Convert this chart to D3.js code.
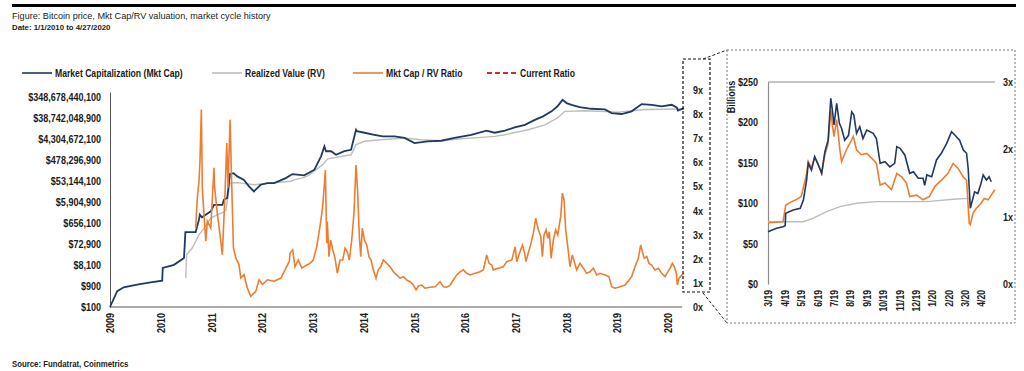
<!DOCTYPE html>
<html>
<head>
<meta charset="utf-8">
<script src="https://cdn.jsdelivr.net/npm/d3@7"></script>
<style>
  body { margin: 0; background: #fff; }
  text { font-family: "Liberation Sans Narrow", "Arial Narrow", "Liberation Sans", Arial, sans-serif; font-weight: bold; fill: #1a1a1a; }
</style>
</head>
<body>
<svg width="1024" height="371"></svg>
<script>
// main chart: market cap (log, $)
const mcDates = ['2009-01-01','2009-02-22','2009-04-10','2009-07-15','2009-10-20','2010-01-12','2010-01-16','2010-04-07','2010-06-18','2010-06-28','2010-09-10','2010-10-04','2010-10-10','2010-10-25','2010-12-28','2011-01-20','2011-03-21','2011-04-02','2011-04-25','2011-05-15','2011-06-10','2011-07-07','2011-08-24','2011-09-29','2011-11-04','2011-12-22','2012-02-08','2012-03-28','2012-06-20','2012-08-07','2012-10-31','2013-01-12','2013-03-01','2013-03-25','2013-04-06','2013-05-12','2013-06-17','2013-08-16','2013-10-03','2013-11-08','2013-11-15','2014-01-08','2014-03-20','2014-05-19','2014-08-12','2014-10-23','2015-01-03','2015-04-08','2015-07-14','2015-10-18','2016-02-16','2016-06-04','2016-08-03','2016-10-15','2016-12-25','2017-03-08','2017-05-19','2017-07-17','2017-09-16','2017-10-29','2017-12-04','2018-01-03','2018-02-07','2018-04-06','2018-06-30','2018-10-05','2018-11-23','2019-02-03','2019-04-16','2019-06-27','2019-09-07','2019-11-18','2020-01-30','2020-03-07','2020-03-14','2020-04-27'];
const mcValues = [100,520,790,1030,1330,1560,5960,8270,16800,255000,255000,933000,1580000,1200000,2240000,4400000,4400000,7500000,9000000,1.1e8,1.2e8,8.6e7,6.0e7,3.06e7,1.8e7,3.6e7,4.3e7,4.3e7,7.2e7,1.1e8,9.6e7,1.74e8,7.05e8,2.0e9,1.2e9,1.2e9,8.3e8,1.2e9,1.4e9,1.14e10,9.7e9,8.3e9,6.7e9,5.7e9,5.7e9,4.8e9,2.8e9,3.4e9,3.6e9,4.8e9,6.7e9,1.03e10,8.3e9,1.03e10,1.47e10,1.9e10,3.2e10,4.6e10,7.8e10,1.32e11,2.6e11,1.85e11,1.55e11,1.2e11,1.02e11,9.5e10,6.5e10,5.9e10,7.8e10,1.67e11,1.55e11,1.32e11,1.55e11,1.15e11,8.5e10,1.1e11];

// main chart: realized value (log, $)
const rvDates = ['2010-07-01','2010-07-07','2010-08-16','2010-10-04','2010-11-09','2010-12-28','2011-02-14','2011-03-21','2011-04-16','2011-05-15','2011-07-07','2011-11-04','2012-03-05','2012-07-27','2012-08-20','2012-10-31','2012-12-01','2013-03-13','2013-04-18','2013-10-03','2013-11-08','2014-01-08','2014-05-08','2014-10-23','2015-02-21','2015-07-14','2015-12-05','2016-04-28','2016-08-03','2016-10-14','2017-04-01','2017-07-30','2017-10-29','2017-12-20','2018-05-14','2019-01-10','2019-07-19','2020-04-27'];
const rvValues = [2080,23700,48000,192000,387000,1100000,1580000,1880000,2500000,4.3e7,4.5e7,3.6e7,4.3e7,5.2e7,6.0e7,7.8e7,9.6e7,2.95e8,5.4e8,8.3e8,2.4e9,3.4e9,4.0e9,4.8e9,4.0e9,3.6e9,4.4e9,5.1e9,5.7e9,6.7e9,1.14e10,1.9e10,3.9e10,7.8e10,8.3e10,7.2e10,9.5e10,1.0e11];

// main chart: Mkt Cap / RV ratio (x)
const ratioDates = ['2010-09-10','2010-09-22','2010-10-04','2010-10-11','2010-10-21','2010-10-28','2010-11-09','2010-11-22','2010-12-03','2010-12-28','2011-01-20','2011-01-24','2011-02-14','2011-03-10','2011-03-21','2011-04-08','2011-04-22','2011-05-01','2011-05-16','2011-05-25','2011-06-09','2011-06-26','2011-07-19','2011-08-01','2011-08-24','2011-09-17','2011-10-11','2011-11-17','2011-12-11','2012-01-04','2012-02-09','2012-03-28','2012-05-16','2012-06-22','2012-07-16',
  '2012-07-20','2012-08-09','2012-08-25','2012-09-18','2012-10-13','2012-11-18','2012-12-11','2013-01-04','2013-01-29','2013-02-21','2013-03-10','2013-03-24','2013-04-01','2013-04-11','2013-04-15','2013-04-27','2013-05-09','2013-05-24','2013-06-10','2013-06-26','2013-07-16','2013-08-04','2013-08-21','2013-09-06','2013-09-21','2013-10-08','2013-10-24','2013-11-08','2013-11-20','2013-12-02','2013-12-12','2013-12-23',
  '2014-01-07','2014-01-24','2014-02-09','2014-02-24','2014-03-12','2014-04-01','2014-04-17','2014-05-05','2014-05-23','2014-06-17','2014-07-11','2014-08-04','2014-08-28','2014-09-21','2014-10-15','2014-11-08','2014-12-02','2014-12-26',
  '2015-01-14','2015-01-31','2015-02-24','2015-03-20','2015-04-25','2015-05-31','2015-07-06','2015-07-30','2015-08-23','2015-09-16','2015-10-10','2015-11-03','2015-11-27','2015-12-21',
  '2016-01-14','2016-02-07','2016-03-14','2016-04-19','2016-05-13','2016-06-06','2016-06-23','2016-07-12','2016-07-24','2016-08-29','2016-10-04','2016-10-29','2016-12-04','2016-12-28',
  '2017-01-08','2017-02-01','2017-02-18','2017-03-04','2017-03-16','2017-04-01','2017-04-21','2017-05-08','2017-05-25','2017-06-13','2017-06-30','2017-07-12','2017-07-24','2017-08-08','2017-08-20','2017-08-31','2017-09-13','2017-09-29','2017-10-16','2017-10-31','2017-11-09','2017-11-21','2017-12-03','2017-12-15','2017-12-27',
  '2018-01-11','2018-01-27','2018-02-13','2018-02-27','2018-03-16','2018-04-09','2018-05-03','2018-05-27','2018-06-20','2018-07-14','2018-08-07','2018-08-31','2018-10-06','2018-11-03','2018-11-23','2018-12-17',
  '2019-01-23','2019-02-28','2019-03-28','2019-04-16','2019-05-10','2019-06-03','2019-06-20','2019-07-02','2019-07-16','2019-08-03','2019-08-19','2019-09-07','2019-10-01','2019-10-25','2019-11-18','2019-12-12',
  '2020-01-01','2020-01-18','2020-02-03','2020-02-17','2020-03-03','2020-03-10','2020-03-22','2020-04-11','2020-04-27'];
const ratioValues = [3.28,4.52,5.22,6.05,8.19,4.94,3.83,2.73,3.56,3.28,5.77,5.0,3.83,2.73,2.17,4.52,6.8,4.94,7.77,5.63,2.45,2.04,1.76,1.2,1.34,0.79,0.44,0.65,1.13,0.93,1.13,1.07,1.2,1.62,1.9,
  2.23,2.37,1.67,1.95,1.61,1.74,1.81,1.95,2.5,3.33,4.02,4.99,5.68,2.64,3.54,2.09,2.78,2.37,2.02,1.4,1.95,1.95,2.44,2.29,1.95,2.78,3.89,5.89,4.72,2.92,2.09,3.27,
  2.78,2.57,2.09,1.95,1.54,1.19,1.54,1.67,1.95,1.81,1.67,1.46,1.33,1.19,1.26,1.12,1.05,0.91,
  0.71,0.87,0.91,0.78,0.82,0.84,1.05,0.84,0.82,0.91,1.12,1.33,1.46,1.54,
  1.4,1.33,1.4,1.46,1.54,2.16,1.81,1.74,1.54,1.61,1.67,1.88,1.95,2.5,
  1.88,2.29,2.57,2.29,1.88,2.23,2.64,3.06,3.68,3.2,2.92,2.09,2.99,3.2,2.85,3.12,2.02,2.78,3.2,2.99,3.33,3.75,4.72,4.44,3.2,
  2.5,1.67,2.16,1.88,1.54,1.81,1.61,1.4,1.46,1.61,1.33,1.4,1.33,1.26,0.84,0.78,
  0.84,0.91,1.12,1.26,1.67,2.02,2.57,2.29,2.02,2.09,1.81,1.74,1.54,1.61,1.4,1.26,
  1.46,1.61,1.81,1.67,1.4,0.91,1.19,1.33,1.4];

const capTicks = [100, 900, 8100, 72900, 656100, 5904900, 53144100, 478296900, 4304672100, 38742048900, 348678440100];
const capTickLabels = ['$100','$900','$8,100','$72,900','$656,100','$5,904,900','$53,144,100','$478,296,900','$4,304,672,100','$38,742,048,900','$348,678,440,100'];
const yearTicks = ['2009','2010','2011','2012','2013','2014','2015','2016','2017','2018','2019','2020'];
const ratioTicks = [0,1,2,3,4,5,6,7,8,9];

// inset: Mar 2019 - Apr 2020, $ billions
const inCapDates = ['2019-03-01','2019-03-17','2019-03-29','2019-04-02','2019-04-03','2019-04-17','2019-04-30','2019-05-06','2019-05-12','2019-05-15','2019-05-21','2019-05-27','2019-06-03','2019-06-09','2019-06-15','2019-06-21','2019-06-26','2019-06-29','2019-07-02','2019-07-07','2019-07-12','2019-07-16','2019-07-22','2019-07-29','2019-08-04','2019-08-08','2019-08-13','2019-08-19','2019-08-25','2019-09-01','2019-09-13','2019-09-19','2019-09-26','2019-10-05','2019-10-14','2019-10-23','2019-10-27','2019-11-02','2019-11-11','2019-11-20','2019-11-27','2019-12-06','2019-12-15','2019-12-18','2019-12-22','2019-12-31','2020-01-09','2020-01-18','2020-01-28','2020-02-06','2020-02-12','2020-02-21','2020-02-28','2020-03-05','2020-03-08','2020-03-12','2020-03-16','2020-03-20','2020-03-26','2020-04-01','2020-04-05','2020-04-11','2020-04-16','2020-04-20'];
const inCapValues = [64.7,68.9,70.9,72,87.5,91.6,93.7,104,128.7,149.4,141,157.5,147,137,163.7,178,229.8,215,196.8,223.6,198.9,192.7,178,184,213,209,186.5,194.7,180,190.6,186.5,180,149.4,151.4,145,149.4,170,168,159.7,137,139,130.8,130.8,122,135,132.8,153.5,161.8,174,188.5,184.4,178,165.8,161.8,143,93.7,104,114,112,124.6,135,128.7,132.8,126.6];

const inRvDates = ['2019-03-01','2019-04-04','2019-05-06','2019-05-24','2019-06-18','2019-07-13','2019-08-13','2019-09-19','2019-11-02','2019-12-22','2020-02-09','2020-03-07','2020-03-12'];
const inRvValues = [77.1,77.1,77.1,81.3,89.5,95.7,99.9,101.9,101.9,101.9,104.8,106,105.5];

const inRatioDates = ['2019-03-01','2019-03-29','2019-04-03','2019-04-13','2019-04-22','2019-05-02','2019-05-12','2019-05-15','2019-05-21','2019-05-27','2019-06-03','2019-06-09','2019-06-15','2019-06-21','2019-06-26','2019-06-29','2019-07-02','2019-07-07','2019-07-13','2019-07-16','2019-07-25','2019-08-07','2019-08-13','2019-08-22','2019-09-01','2019-09-10','2019-09-19','2019-09-26','2019-10-05','2019-10-17','2019-10-27','2019-11-05','2019-11-14','2019-11-20','2019-12-03','2019-12-15','2019-12-27','2020-01-06','2020-01-18','2020-01-30','2020-02-09','2020-02-18','2020-02-28','2020-03-05','2020-03-10','2020-03-12','2020-03-17','2020-03-23','2020-04-01','2020-04-07','2020-04-14','2020-04-20','2020-04-27'];
const inRatioValues = [0.91,0.925,1.17,1.22,1.25,1.30,1.64,1.82,1.72,1.89,1.77,1.64,1.92,2.09,2.58,2.36,2.19,2.44,1.99,1.82,1.99,2.19,1.99,1.92,1.94,1.87,1.79,1.47,1.50,1.40,1.64,1.59,1.50,1.30,1.32,1.25,1.30,1.45,1.54,1.64,1.79,1.72,1.59,1.54,0.90,0.88,1.05,1.12,1.20,1.27,1.25,1.32,1.40];

const inMonthTicks = ['2019-03-01','2019-04-01','2019-05-01','2019-06-01','2019-07-01','2019-08-01','2019-09-01','2019-10-01','2019-11-01','2019-12-01','2020-01-01','2020-02-01','2020-03-01','2020-04-01'];
const inCapTicks = [0, 50, 100, 150, 200, 250];
const inRatioTicks = [0, 1, 2, 3];

const legendLabels = ['Market Capitalization (Mkt Cap)', 'Realized Value (RV)', 'Mkt Cap / RV Ratio', 'Current Ratio'];

const NAVY = '#1f3864', GRAY = '#bdbdbd', ORANGE = '#ed7d31', RED = '#d42a2a';
const parse = d3.timeParse('%Y-%m-%d');
const zip = (ds, vs) => ds.map((d, i) => ({ date: parse(d), value: vs[i] }));

const svg = d3.select('svg');

// header
svg.append('rect').attr('x', 12).attr('y', 4).attr('width', 1004).attr('height', 3).attr('fill', '#000');
svg.append('text').attr('class', 'plain').attr('x', 12).attr('y', 19)
  .style('font-family', '"Liberation Sans", Arial, sans-serif').style('font-weight', 'normal').style('font-size', '9.1px')
  .text('Figure: Bitcoin price, Mkt Cap/RV valuation, market cycle history');
svg.append('text').attr('class', 'plain').attr('x', 12).attr('y', 30)
  .style('font-family', '"Liberation Sans", Arial, sans-serif').style('font-size', '7.8px')
  .text('Date: 1/1/2010 to 4/27/2020');
svg.append('text').attr('x', 12).attr('y', 367).style('font-size', '9.5px')
  .text('Source: Fundatrat, Coinmetrics');

// legend
const legendX = [22, 212, 353, 487];
const legendColors = [NAVY, GRAY, ORANGE, RED];
const lg = svg.append('g').attr('transform', 'translate(0,73)');
legendLabels.forEach((label, i) => {
  lg.append('line').attr('x1', legendX[i]).attr('x2', legendX[i] + 30)
    .attr('stroke', legendColors[i]).attr('stroke-width', i === 3 ? 1.8 : 1.6)
    .attr('stroke-dasharray', i === 3 ? '5,3' : null);
  lg.append('text').attr('x', legendX[i] + 33).attr('dy', '0.35em').style('font-size', '10.5px').text(label);
});

// main chart scales
const x = d3.scaleTime().domain([parse('2009-01-01'), parse('2020-04-27')]).range([110, 684]);
const yCap = d3.scaleLog().base(9).domain([100, 5.9e11]).range([307, 92]);
const yRatio = d3.scaleLinear().domain([0, 9]).range([307, 90]);

const gLeft = svg.append('g').attr('transform', 'translate(110,0)')
  .call(d3.axisLeft(yCap).tickValues(capTicks).tickFormat((d, i) => capTickLabels[i]).tickSize(0).tickPadding(9));
gLeft.select('.domain').attr('stroke', '#555');
gLeft.selectAll('text').style('font-size', '11px').attr('fill', '#1a1a1a');

const gBottom = svg.append('g').attr('transform', 'translate(0,307)')
  .call(d3.axisBottom(x).tickValues(yearTicks.map(y => parse(y + '-01-01'))).tickFormat(d3.timeFormat('%Y')).tickSize(0).tickSizeOuter(0));
gBottom.select('.domain').attr('stroke', '#555').attr('d', 'M110,0H682');
gBottom.selectAll('text').style('font-size', '11px').attr('fill', '#1a1a1a')
  .attr('transform', 'rotate(-90)').attr('x', -6).attr('y', 0).attr('dy', '0.35em').style('text-anchor', 'end');

const gRight = svg.append('g').attr('transform', 'translate(693,0)')
  .call(d3.axisRight(yRatio).tickValues(ratioTicks).tickFormat(d => d + 'x').tickSize(0).tickPadding(0));
gRight.select('.domain').remove();
gRight.selectAll('text').style('font-size', '11px').attr('fill', '#1a1a1a');

const capLine = d3.line().x(d => x(d.date)).y(d => yCap(d.value));
const ratioLine = d3.line().x(d => x(d.date)).y(d => yRatio(d.value));

svg.append('path').datum(zip(rvDates, rvValues)).attr('d', capLine)
  .attr('fill', 'none').attr('stroke', GRAY).attr('stroke-width', 1.4);
svg.append('path').datum(zip(mcDates, mcValues)).attr('d', capLine)
  .attr('fill', 'none').attr('stroke', NAVY).attr('stroke-width', 1.8);
svg.append('path').datum(zip(ratioDates, ratioValues)).attr('d', ratioLine)
  .attr('fill', 'none').attr('stroke', ORANGE).attr('stroke-width', 1.6);

// zoom box + connectors
svg.append('rect').attr('x', 683).attr('y', 59).attr('width', 27).attr('height', 233)
  .attr('fill', 'none').attr('stroke', '#111').attr('stroke-width', 1.2).attr('stroke-dasharray', '3,2');
svg.append('path').attr('d', 'M703,59L727,50M703,293L727,323')
  .attr('fill', 'none').attr('stroke', '#222').attr('stroke-width', 1).attr('stroke-dasharray', '3,2');
svg.append('rect').attr('x', 727).attr('y', 50).attr('width', 288).attr('height', 273)
  .attr('fill', 'none').attr('stroke', '#777').attr('stroke-width', 1).attr('stroke-dasharray', '2,2');

// inset
const xIn = d3.scaleTime().domain([parse('2019-03-01'), parse('2020-04-27')]).range([768, 995]);
const yIn = d3.scaleLinear().domain([0, 250]).range([284, 82]);
const yInR = d3.scaleLinear().domain([0, 3]).range([284, 82]);

svg.append('line').attr('x1', 768).attr('x2', 995).attr('y1', yIn(250)).attr('y2', yIn(250))
  .attr('stroke', '#8c8c8c').attr('stroke-width', 1.2);

const gInL = svg.append('g').attr('transform', 'translate(768,0)')
  .call(d3.axisLeft(yIn).tickValues(inCapTicks).tickFormat(d => '$' + d).tickSize(0).tickPadding(10));
gInL.select('.domain').attr('stroke', '#8c8c8c').attr('stroke-width', 1.2);
gInL.selectAll('text').style('font-size', '11px').attr('fill', '#1a1a1a');

const gInR = svg.append('g').attr('transform', 'translate(1003,0)')
  .call(d3.axisRight(yInR).tickValues(inRatioTicks).tickFormat(d => d + 'x').tickSize(0).tickPadding(0));
gInR.select('.domain').remove();
gInR.selectAll('text').style('font-size', '11px').attr('fill', '#1a1a1a');

const gInB = svg.append('g').attr('transform', 'translate(0,284)')
  .call(d3.axisBottom(xIn).tickValues(inMonthTicks.map(parse)).tickFormat(d3.timeFormat('%-m/%y')).tickSize(0));
gInB.select('.domain').remove();
gInB.selectAll('text').style('font-size', '10.5px').attr('fill', '#1a1a1a')
  .attr('transform', 'rotate(-90)').attr('x', -6).attr('y', 0).attr('dy', '0.35em').style('text-anchor', 'end');

svg.append('text').attr('transform', 'translate(731,97) rotate(-90)').attr('dy', '0.35em')
  .style('text-anchor', 'middle').style('font-size', '11px').text('Billions');

const inCapLine = d3.line().x(d => xIn(d.date)).y(d => yIn(d.value));
const inRatioLine = d3.line().x(d => xIn(d.date)).y(d => yInR(d.value));

svg.append('path').datum(zip(inRvDates, inRvValues)).attr('d', inCapLine)
  .attr('fill', 'none').attr('stroke', GRAY).attr('stroke-width', 1.4);
svg.append('path').datum(zip(inRatioDates, inRatioValues)).attr('d', inRatioLine)
  .attr('fill', 'none').attr('stroke', ORANGE).attr('stroke-width', 1.6);
svg.append('path').datum(zip(inCapDates, inCapValues)).attr('d', inCapLine)
  .attr('fill', 'none').attr('stroke', NAVY).attr('stroke-width', 1.6);

// no narrow font installed: squeeze the bold labels to an Arial Narrow width
svg.selectAll('text:not(.plain)').each(function() {
  const w = this.getComputedTextLength();
  d3.select(this).attr('textLength', w * 0.82).attr('lengthAdjust', 'spacingAndGlyphs');
});
</script>
</body>
</html>
